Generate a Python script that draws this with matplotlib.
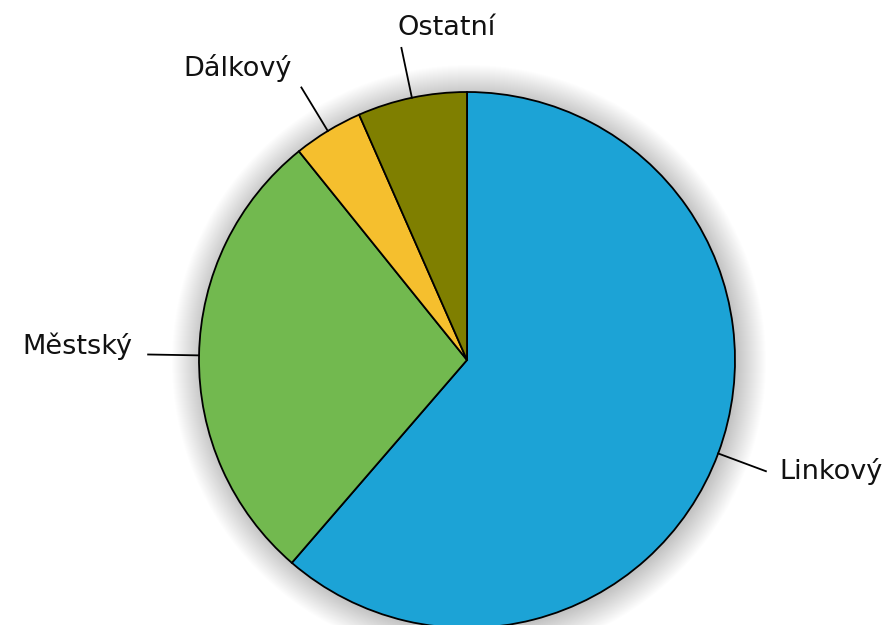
import matplotlib.pyplot as plt
import numpy as np
from matplotlib.patches import Circle

# Data
labels = ['Linkový', 'Městský', 'Dálkový', 'Ostatní']
values = [61.4, 27.9, 4.2, 6.6]
colors = ['#1ca3d6', '#72b94f', '#f5bf2e', '#7f7f00']

# label placement: (offset in points, ha, va)
label_style = {
    'Linkový': ((10, 0), 'left', 'center'),
    'Městský': ((-11, 6), 'right', 'center'),
    'Dálkový': ((-7, 4), 'right', 'bottom'),
    'Ostatní': ((-3, 5), 'left', 'bottom'),
}

W, H = 893, 625
fig = plt.figure(figsize=(W / 100, H / 100), dpi=100)
ax = fig.add_axes([0, 0, 1, 1])
ax.set_aspect('equal')

cx, cy, r = 467, H - 360, 268

# soft glow/shadow around the pie
for k in range(30):
    ax.add_patch(Circle((cx + 2, cy - 2), r + k * 1.0, color='black',
                        alpha=0.0065, lw=0, zorder=0))

wedges, _ = ax.pie(values, colors=colors, startangle=90, counterclock=False,
                   center=(cx, cy), radius=r, frame=True,
                   wedgeprops=dict(edgecolor='black', linewidth=1.3))
ax.set_xlim(0, W)
ax.set_ylim(0, H)
ax.axis('off')

for w, lab in zip(wedges, labels):
    ang = np.deg2rad((w.theta1 + w.theta2) / 2)
    x0, y0 = cx + r * np.cos(ang), cy + r * np.sin(ang)
    x1, y1 = cx + 1.19 * r * np.cos(ang), cy + 1.19 * r * np.sin(ang)
    ax.plot([x0, x1], [y0, y1], color='black', lw=1.3, zorder=5)
    off, ha, va = label_style[lab]
    ax.annotate(lab, (x1, y1), xytext=off, textcoords='offset points',
                ha=ha, va=va, fontsize=19.5, color='#111111')

plt.savefig('out.png', dpi=100)
